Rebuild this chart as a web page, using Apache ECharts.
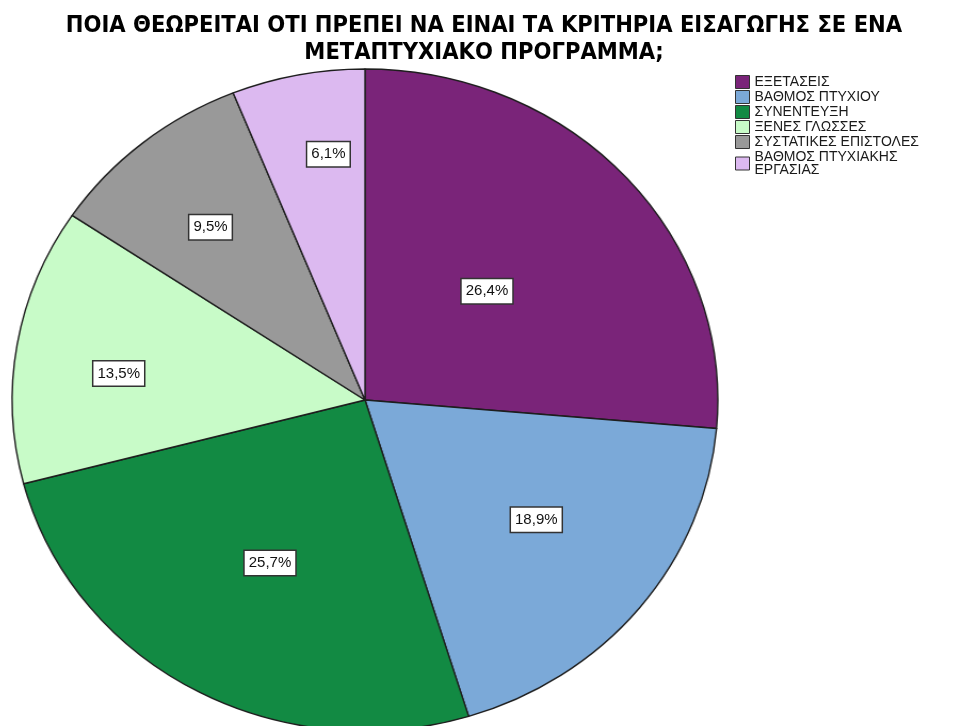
<!DOCTYPE html>
<html>
<head>
<meta charset="utf-8">
<script src="https://cdn.jsdelivr.net/npm/echarts@6/dist/echarts.min.js"></script>
<style>
  html, body { margin: 0; padding: 0; background: #ffffff; }
  #wrap { position: relative; width: 957px; height: 726px; overflow: hidden; }
  #pie, #overlay { position: absolute; left: 0; top: 0; width: 957px; height: 726px; }
  /* the pie is drawn slightly wider than tall */
  #pie { transform-origin: 365px 400px; transform: scaleX(1.066); }
</style>
</head>
<body>
<div id="wrap">
  <div id="pie"></div>
  <div id="overlay"></div>
</div>
<script>
const titleText = 'ΠΟΙΑ ΘΕΩΡΕΙΤΑΙ ΟΤΙ ΠΡΕΠΕΙ ΝΑ ΕΙΝΑΙ ΤΑ ΚΡΙΤΗΡΙΑ ΕΙΣΑΓΩΓΗΣ ΣΕ ΕΝΑ\nΜΕΤΑΠΤΥΧΙΑΚΟ ΠΡΟΓΡΑΜΜΑ;';
const categories = ['ΕΞΕΤΑΣΕΙΣ', 'ΒΑΘΜΟΣ ΠΤΥΧΙΟΥ', 'ΣΥΝΕΝΤΕΥΞΗ', 'ΞΕΝΕΣ ΓΛΩΣΣΕΣ', 'ΣΥΣΤΑΤΙΚΕΣ ΕΠΙΣΤΟΛΕΣ', 'ΒΑΘΜΟΣ ΠΤΥΧΙΑΚΗΣ ΕΡΓΑΣΙΑΣ'];
const percents = [26.4, 18.9, 25.7, 13.5, 9.5, 6.1];
const sliceColors = ['#7a2479', '#7ba9d8', '#128a43', '#c8fbc8', '#999999', '#dcb9f0'];

// pie geometry; each value label is pushed out along its slice (factor of half radius)
// and turned a little around the centre (degrees)
const CX = 365, CY = 400, R = 331;
const labelReach = [0.97, 1.24, 1.12, 1.47, 1.375, 1.475];
const labelTurn = [0.8, -4, 1.1, -3.5, -2.8, 2.5];

const fmtPct = v => v.toFixed(1).replace('.', ',') + '%';
// long legend entries wrap at their last space
const wrapName = name => name.length > 22 ? name.replace(/ (?=[^ ]*$)/, '\n') : name;

// sectors
const pieChart = echarts.init(document.getElementById('pie'), null, { renderer: 'canvas' });
pieChart.setOption({
  animation: false,
  series: [{
    type: 'pie',
    silent: true,
    center: [CX, CY],
    radius: [0, R],
    startAngle: 90,
    clockwise: true,
    avoidLabelOverlap: false,
    label: { show: false },
    labelLine: { show: false },
    itemStyle: { borderColor: '#1e1e1e', borderWidth: 1.4 },
    data: categories.map((name, i) => ({
      name: name,
      value: percents[i],
      itemStyle: { color: sliceColors[i] }
    }))
  }]
});

// title, legend and value labels
const overlay = echarts.init(document.getElementById('overlay'), null, { renderer: 'canvas' });
overlay.setOption({
  animation: false,
  title: {
    text: titleText,
    left: 484,
    textAlign: 'center',
    top: 12,
    padding: 0,
    textStyle: {
      fontFamily: '"Liberation Sans Narrow", "DejaVu Sans Condensed", "Liberation Sans", sans-serif',
      fontWeight: 'bold',
      fontSize: 23.5,
      lineHeight: 27,
      color: '#000000'
    }
  },
  legend: {
    orient: 'vertical',
    left: 735,
    top: 75,
    padding: 0,
    itemWidth: 14,
    itemHeight: 13,
    itemGap: 1,
    selectedMode: false,
    icon: 'rect',
    formatter: wrapName,
    textStyle: {
      fontFamily: '"Liberation Sans", Arial, sans-serif',
      fontSize: 14,
      lineHeight: 13,
      color: '#1a1a1a'
    },
    data: categories.map((name, i) => ({
      name: name,
      itemStyle: { color: sliceColors[i], opacity: 1, borderColor: '#333333', borderWidth: 1 }
    }))
  },
  series: [{
    type: 'pie',
    silent: true,
    center: [CX, CY],
    radius: [0, R],
    startAngle: 90,
    clockwise: true,
    avoidLabelOverlap: false,
    itemStyle: { color: 'rgba(0,0,0,0)', borderWidth: 0 },
    labelLine: { show: false },
    label: {
      show: true,
      position: 'inside',
      formatter: p => fmtPct(p.value),
      fontFamily: '"Liberation Sans", Arial, sans-serif',
      fontSize: 15,
      color: '#111111',
      backgroundColor: '#ffffff',
      borderColor: '#333333',
      borderWidth: 1.5,
      padding: [5, 4, 4, 4]
    },
    labelLayout: function (p) {
      const r = p.labelRect;
      const lx = r.x + r.width / 2 - CX;
      const ly = r.y + r.height / 2 - CY;
      const k = labelReach[p.dataIndex];
      const a = labelTurn[p.dataIndex] * Math.PI / 180;
      const c = Math.cos(a), s = Math.sin(a);
      return { x: CX + k * (lx * c - ly * s), y: CY + k * (lx * s + ly * c) };
    },
    data: categories.map((name, i) => ({ name: name, value: percents[i] }))
  }]
});
</script>
</body>
</html>
